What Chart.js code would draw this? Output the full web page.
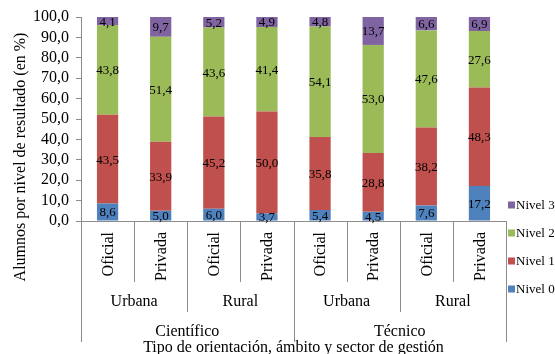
<!DOCTYPE html>
<html>
<head>
<meta charset="utf-8">
<style>
  html, body { margin: 0; padding: 0; background: #ffffff; }
  #wrap { width: 555px; height: 354px; position: relative; }
</style>
<script src="https://cdn.jsdelivr.net/npm/chart.js@4/dist/chart.umd.min.js"></script>
</head>
<body>
<div id="wrap"><canvas id="grafico" width="555" height="354"></canvas></div>
<script>
// Sector de gestión (one bar each), ámbito and orientación group labels
const sectores = ['Oficial', 'Privada', 'Oficial', 'Privada', 'Oficial', 'Privada', 'Oficial', 'Privada'];
const ambitos = ['Urbana', 'Rural', 'Urbana', 'Rural'];
const orientaciones = ['Científico', 'Técnico'];

// Percentage of students per result level
const nivel0 = [8.6, 5.0, 6.0, 3.7, 5.4, 4.5, 7.6, 17.2];
const nivel1 = [43.5, 33.9, 45.2, 50.0, 35.8, 28.8, 38.2, 48.3];
const nivel2 = [43.8, 51.4, 43.6, 41.4, 54.1, 53.0, 47.6, 27.6];
const nivel3 = [4.1, 9.7, 5.2, 4.9, 4.8, 13.7, 6.6, 6.9];

const nombresNivel = ['Nivel 0', 'Nivel 1', 'Nivel 2', 'Nivel 3'];
const coloresNivel = ['#4F81BD', '#C0504D', '#9BBB59', '#8064A2'];

const yMin = 0, yMax = 100, yPaso = 10;

const SERIF = '"Liberation Serif", "Times New Roman", serif';
const GRIS = '#8c8c8c';

const fmt = v => Number(v).toFixed(1).replace('.', ',');

// Value labels centred on each stacked segment
const etiquetasValores = {
  id: 'etiquetasValores',
  afterDatasetsDraw(chart) {
    const ctx = chart.ctx;
    ctx.save();
    ctx.font = '13px ' + SERIF;
    ctx.fillStyle = '#000';
    ctx.textAlign = 'center';
    ctx.textBaseline = 'middle';
    chart.data.datasets.forEach((ds, di) => {
      const meta = chart.getDatasetMeta(di);
      meta.data.forEach((bar, i) => {
        const yc = (bar.y + bar.base) / 2 + 1;
        ctx.fillText(fmt(ds.data[i]), bar.x, yc);
      });
    });
    ctx.restore();
  }
};

// Hierarchical category axis, axis titles and legend
const ejeJerarquico = {
  id: 'ejeJerarquico',
  afterDraw(chart) {
    const ctx = chart.ctx;
    const xs = chart.scales.x;
    const area = chart.chartArea;
    const n = sectores.length;
    const centro = i => xs.getPixelForValue(i);
    const borde = k => {
      if (k === 0) return area.left;
      if (k === n) return area.right;
      return (centro(k - 1) + centro(k)) / 2;
    };
    const eje = area.bottom;

    ctx.save();
    // separators below the axis, longer for higher grouping levels
    ctx.strokeStyle = GRIS;
    ctx.lineWidth = 1;
    for (let k = 0; k <= n; k++) {
      let largo;
      if (k % 4 === 0) largo = 121;
      else if (k % 2 === 0) largo = 91;
      else largo = 61;
      const x = Math.round(borde(k)) + 0.5;
      ctx.beginPath();
      ctx.moveTo(x, eje);
      ctx.lineTo(x, eje + largo);
      ctx.stroke();
    }

    ctx.fillStyle = '#000';
    ctx.font = '16px ' + SERIF;

    // sector labels, rotated
    sectores.forEach((s, i) => {
      ctx.save();
      ctx.translate(centro(i), eje + 11);
      ctx.rotate(-Math.PI / 2);
      ctx.textAlign = 'right';
      ctx.textBaseline = 'middle';
      ctx.fillText(s, 0, 1);
      ctx.restore();
    });

    ctx.textAlign = 'center';
    ctx.textBaseline = 'middle';
    // ámbito labels
    ambitos.forEach((a, j) => {
      const x = (borde(2 * j) + borde(2 * j + 2)) / 2;
      ctx.fillText(a, x, eje + 81);
    });
    // orientación labels
    orientaciones.forEach((o, j) => {
      const x = (borde(4 * j) + borde(4 * j + 4)) / 2;
      ctx.fillText(o, x, eje + 111);
    });
    // x axis title
    ctx.fillText('Tipo de orientación, ámbito y sector de gestión', (area.left + area.right) / 2, eje + 127);

    // y axis title
    ctx.save();
    ctx.translate(21, 157);
    ctx.rotate(-Math.PI / 2);
    ctx.fillText('Alumnos por nivel de resultado (en %)', 0, 0);
    ctx.restore();

    // legend, highest level on top
    ctx.font = '13px ' + SERIF;
    ctx.textAlign = 'left';
    const items = chart.data.datasets.map((d, i) => ({ label: d.label, color: d.backgroundColor })).reverse();
    items.forEach((it, j) => {
      const y = 205 + j * 28;
      ctx.fillStyle = it.color;
      ctx.fillRect(508, y - 3.5, 7, 7);
      ctx.fillStyle = '#000';
      ctx.fillText(it.label, 516, y + 1);
    });
    ctx.restore();
  }
};

const series = [nivel0, nivel1, nivel2, nivel3];

new Chart(document.getElementById('grafico'), {
  type: 'bar',
  data: {
    labels: sectores,
    datasets: series.map((d, i) => ({
      label: nombresNivel[i],
      data: d,
      backgroundColor: coloresNivel[i],
      borderWidth: 0,
      categoryPercentage: 1.0,
      barPercentage: 0.4
    }))
  },
  options: {
    responsive: false,
    animation: false,
    devicePixelRatio: 1,
    layout: { padding: { top: 17, right: 49, left: 0, bottom: 0 } },
    plugins: {
      legend: { display: false },
      tooltip: { enabled: false },
      title: { display: false }
    },
    scales: {
      x: {
        stacked: true,
        ticks: { display: false },
        grid: { display: false },
        border: { display: true, color: GRIS, width: 1 },
        afterFit(s) { s.height = 133; }
      },
      y: {
        stacked: true,
        min: yMin,
        max: yMax,
        ticks: {
          stepSize: yPaso,
          autoSkip: false,
          padding: 7,
          color: '#000',
          font: { family: SERIF, size: 16, lineHeight: 1 },
          callback: v => fmt(v)
        },
        grid: { drawOnChartArea: false, drawTicks: true, tickLength: 5, color: GRIS },
        border: { display: true, color: GRIS, width: 1 },
        afterFit(s) { s.width = 81; }
      }
    }
  },
  plugins: [etiquetasValores, ejeJerarquico]
});
</script>
</body>
</html>
